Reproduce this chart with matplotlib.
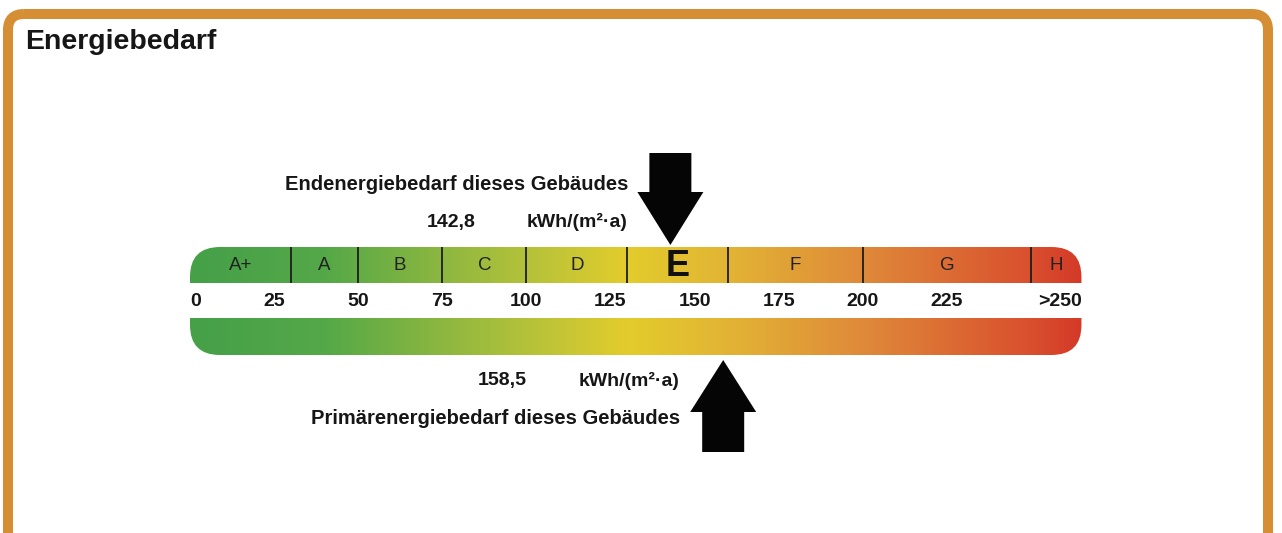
import numpy as np
import matplotlib
matplotlib.use('Agg')
import matplotlib.pyplot as plt
import matplotlib.transforms as mtransforms
from matplotlib.patches import FancyBboxPatch, Polygon, Rectangle
from matplotlib.colors import LinearSegmentedColormap, Normalize

plt.rcParams['font.family'] = ['Liberation Sans', 'DejaVu Sans']

# ---- data ----
classes = ['A+', 'A', 'B', 'C', 'D', 'E', 'F', 'G', 'H']
class_edges = [0, 30, 50, 75, 100, 130, 160, 200, 250, 265]
tick_values = [0, 25, 50, 75, 100, 125, 150, 175, 200, 225, 265]
tick_labels = ['0', '25', '50', '75', '100', '125', '150', '175', '200', '225', '>250']
end_energy = 142.8        # Endenergiebedarf
primary_energy = 158.5    # Primaerenergiebedarf
building_class = 'E'
unit = 'kWh/(m²·a)'

# colour stops of the scale (kWh value -> colour)
grad_values = [0, 40, 100, 130, 160, 200, 250, 265]
grad_colors = ['#45a048', '#55a848', '#b4c23a', '#e3cc2c', '#e2b434',
               '#df8a3a', '#d9502e', '#d43a28']

# ---- layout (pixels) ----
W, H = 1282, 533
X0, SCALE = 190, 3.364          # pixel of 0 kWh, pixels per kWh
BAR_TOP, BAR_MID1, BAR_MID2, BAR_BOT = 247, 283, 318, 355
TEXT = '#161616'

fig = plt.figure(figsize=(W / 100, H / 100), dpi=100)
ax = fig.add_axes([0, 0, 1, 1])
ax.axis('off')
pix = mtransforms.Affine2D().scale(1 / W, -1 / H).translate(0, 1) + fig.transFigure

# gradient bar, clipped to one rounded shape, split by a white band
cmap = LinearSegmentedColormap.from_list(
    'scale', [(v / grad_values[-1], c) for v, c in zip(grad_values, grad_colors)])
vals = np.linspace(0, class_edges[-1], 600)[None, :]
im = ax.imshow(vals, cmap=cmap, norm=Normalize(0, class_edges[-1]), aspect='auto',
               extent=(0, class_edges[-1], BAR_BOT, BAR_TOP), interpolation='bilinear')
r = 30 / SCALE
clip = FancyBboxPatch((0, BAR_TOP), class_edges[-1], BAR_BOT - BAR_TOP,
                      boxstyle=f'round,pad=0,rounding_size={r}', mutation_aspect=SCALE,
                      facecolor='none', edgecolor='none', transform=ax.transData)
ax.add_patch(clip)
im.set_clip_path(clip)
ax.add_patch(Rectangle((-10, BAR_MID1), class_edges[-1] + 20, BAR_MID2 - BAR_MID1,
                       facecolor='white', edgecolor='none', zorder=2))

# class separators and letters
ax.vlines(class_edges[1:-1], BAR_TOP, BAR_MID1, color='#1e1e1e', lw=1.3, zorder=3)
for c, a, b in zip(classes, class_edges[:-1], class_edges[1:]):
    if c == building_class:
        ax.text((a + b) / 2, 266, c, ha='center', va='center', fontsize=26,
                fontweight='bold', color='#111111', zorder=4)
    else:
        ax.text((a + b) / 2, 265, c, ha='center', va='center', fontsize=13.5,
                color='#222222', zorder=4)

# scale numbers
for v, lab in zip(tick_values, tick_labels):
    ha = 'left' if v == tick_values[0] else ('right' if v == tick_values[-1] else 'center')
    ax.text(v, 301, lab, ha=ha, va='center', fontsize=14, fontweight='bold',
            color=TEXT, zorder=4)


def arrow(value, tip_y, base_y, tail_y, head=33, shaft=21):
    hh, hs = head / SCALE, shaft / SCALE
    pts = [(value, tip_y), (value - hh, base_y), (value - hs, base_y),
           (value - hs, tail_y), (value + hs, tail_y), (value + hs, base_y),
           (value + hh, base_y)]
    ax.add_patch(Polygon(pts, closed=True, facecolor='#050505', edgecolor='none', zorder=5))


arrow(end_energy, 245, 192, 153)
arrow(primary_energy, 360, 412, 452)

fmt = lambda v: f'{v:.1f}'.replace('.', ',')

# texts
ax.text(25, 42, 'Energiebedarf', transform=pix, ha='left', va='center',
        fontsize=20.5, fontweight='bold', color=TEXT)
ax.text(628, 184, 'Endenergiebedarf dieses Gebäudes', transform=pix, ha='right',
        va='center', fontsize=14.5, fontweight='bold', color=TEXT)
ax.text(451, 222, fmt(end_energy), transform=pix, ha='center', va='center',
        fontsize=14, fontweight='bold', color=TEXT)
ax.text(628, 222, unit, transform=pix, ha='right', va='center',
        fontsize=14, fontweight='bold', color=TEXT)
ax.text(502, 381, fmt(primary_energy), transform=pix, ha='center', va='center',
        fontsize=14, fontweight='bold', color=TEXT)
ax.text(680, 381, unit, transform=pix, ha='right', va='center',
        fontsize=14, fontweight='bold', color=TEXT)
ax.text(680, 419, 'Primärenergiebedarf dieses Gebäudes', transform=pix, ha='right',
        va='center', fontsize=14.5, fontweight='bold', color=TEXT)

# orange frame
frame = FancyBboxPatch((8, 14), 1260, 600, boxstyle='round,pad=0,rounding_size=16',
                       transform=pix, facecolor='none', edgecolor='#d68e34',
                       lw=7.2, clip_on=False)
ax.add_patch(frame)

ax.set_xlim(-X0 / SCALE, (W - X0) / SCALE)
ax.set_ylim(H, 0)

fig.savefig('out.png', dpi=100, facecolor='white')
